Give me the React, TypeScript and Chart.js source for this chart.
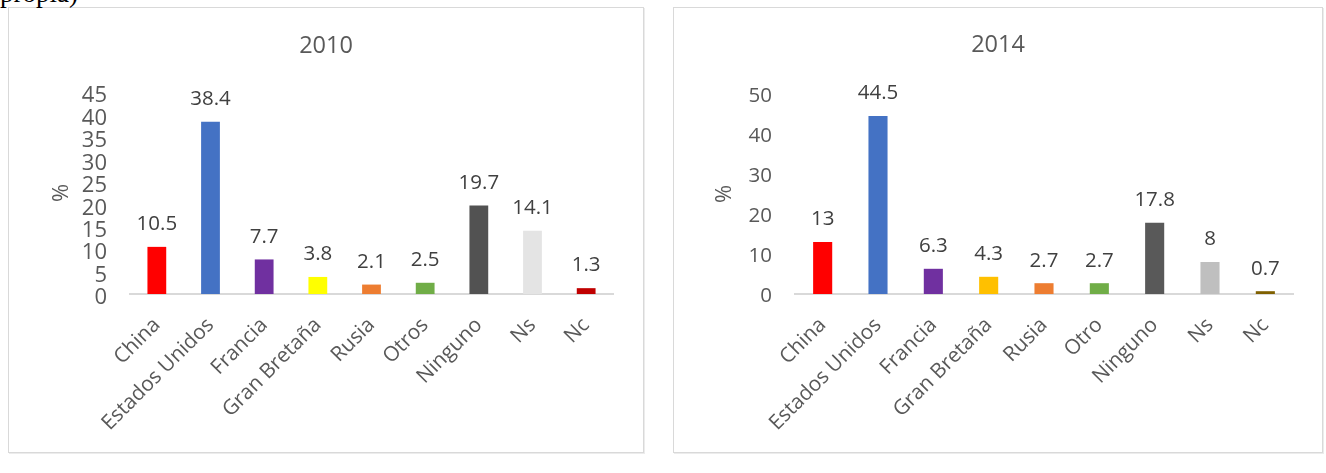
import React, { useEffect, useRef } from "react";
import { Chart, registerables } from "chart.js";

Chart.register(...registerables);

// ---- Data ----
const categories2010 = ["China", "Estados Unidos", "Francia", "Gran Bretaña", "Rusia", "Otros", "Ninguno", "Ns", "Nc"];
const values2010 = [10.5, 38.4, 7.7, 3.8, 2.1, 2.5, 19.7, 14.1, 1.3];
const colors2010 = ["#FF0000", "#4472C4", "#7030A0", "#FFFF00", "#ED7D31", "#70AD47", "#525252", "#E4E4E4", "#C00000"];

const categories2014 = ["China", "Estados Unidos", "Francia", "Gran Bretaña", "Rusia", "Otro", "Ninguno", "Ns", "Nc"];
const values2014 = [13, 44.5, 6.3, 4.3, 2.7, 2.7, 17.8, 8, 0.7];
const colors2014 = ["#FF0000", "#4472C4", "#7030A0", "#FFC000", "#ED7D31", "#70AD47", "#595959", "#BFBFBF", "#7F6000"];

const title2010 = "2010";
const title2014 = "2014";
const yMax2010 = 45;
const yStep2010 = 5;
const yMax2014 = 50;
const yStep2014 = 10;
const yAxisTitle = "%";

const FONT = "'Open Sans', 'Noto Sans', sans-serif";

const valueLabelPlugin = {
  id: "valueLabels",
  afterDatasetsDraw(chart: any) {
    const ctx = chart.ctx;
    const meta = chart.getDatasetMeta(0);
    const data = chart.data.datasets[0].data;
    ctx.save();
    ctx.font = `20.5px ${FONT}`;
    ctx.fillStyle = "#404040";
    ctx.textAlign = "center";
    ctx.textBaseline = "alphabetic";
    meta.data.forEach((el: any, i: number) => {
      ctx.fillText(String(data[i]), el.x, el.y - 24 + 7.3);
    });
    ctx.restore();
  },
};

// Title centred on the whole box, and y tick labels drawn digit-centred
const boxTextPlugin = {
  id: "boxText",
  afterDraw(chart: any, _args: any, opts: any) {
    const ctx = chart.ctx;
    ctx.save();
    ctx.font = `${opts.size}px ${FONT}`;
    ctx.fillStyle = "#595959";
    ctx.textAlign = "center";
    ctx.textBaseline = "middle";
    ctx.fillText(opts.text, chart.width / 2, opts.y);

    const ys = chart.scales.y;
    ctx.font = `${opts.tickSize}px ${FONT}`;
    ctx.textAlign = "right";
    ctx.textBaseline = "alphabetic";
    ys.ticks.forEach((t: any) => {
      const py = ys.getPixelForValue(t.value);
      ctx.fillText(String(t.value), ys.right - 23, py + opts.tickSize * 0.357 + opts.tickShift);
    });
    ctx.restore();
  },
};

interface CfgParams {
  labels: string[];
  values: number[];
  colors: string[];
  title: string;
  titleY: number;
  plotTop: number;
  yMax: number;
  yStep: number;
  rightPad: number;
  yTickSize: number;
  yTickShift: number;
  yTitlePad: number;
  barPct: number;
}

function makeConfig(p: CfgParams): any {
  return {
    type: "bar",
    data: {
      labels: p.labels,
      datasets: [
        {
          data: p.values,
          backgroundColor: p.colors,
          borderWidth: 0,
          barPercentage: p.barPct,
          categoryPercentage: 1,
        },
      ],
    },
    options: {
      responsive: false,
      animation: false,
      devicePixelRatio: 1,
      layout: { padding: { left: 0, right: p.rightPad, top: p.plotTop, bottom: 0 } },
      plugins: {
        legend: { display: false },
        tooltip: { enabled: false },
        title: { display: false },
        boxText: { text: p.title, y: p.titleY, size: 23.5, tickSize: p.yTickSize, tickShift: p.yTickShift },
      },
      scales: {
        x: {
          grid: { display: false, drawTicks: false },
          border: { display: true, color: "#d9d9d9", width: 2 },
          ticks: {
            color: "#595959",
            font: { family: FONT, size: 20.7 },
            minRotation: 45,
            maxRotation: 45,
            autoSkip: false,
            padding: 19,
          },
          afterFit: (s: any) => {
            s.height = 158;
          },
        },
        y: {
          min: 0,
          max: p.yMax,
          grid: { display: false, drawTicks: false },
          border: { display: false },
          ticks: {
            stepSize: p.yStep,
            autoSkip: false,
            display: false,
          },
          title: {
            display: true,
            text: yAxisTitle,
            color: "#595959",
            font: { family: FONT, size: 22 },
            padding: { top: p.yTitlePad, bottom: 0 },
          },
          afterFit: (s: any) => {
            s.width = 121;
          },
        },
      },
    },
    plugins: [valueLabelPlugin, boxTextPlugin],
  };
}

function ChartBox(props: { left: number; width: number; params: CfgParams }) {
  const ref = useRef<HTMLCanvasElement | null>(null);
  useEffect(() => {
    if (!ref.current) return;
    const chart = new Chart(ref.current, makeConfig(props.params));
    return () => chart.destroy();
  }, []);
  const w = props.width;
  const h = 446;
  return (
    <div
      style={{
        position: "absolute",
        left: props.left,
        top: 7,
        width: w,
        height: h,
        border: "1px solid #d9d9d9",
        boxSizing: "border-box",
        background: "#ffffff",
        boxShadow: "1px 1px 0 #ececec",
      }}
    >
      <canvas ref={ref} width={w - 2} height={h - 2} style={{ display: "block", width: w - 2, height: h - 2 }} />
    </div>
  );
}

export default function App() {
  return (
    <div style={{ position: "absolute", left: 0, top: 0, width: 1326, height: 473, overflow: "hidden" }}>
      <ChartBox
        left={8}
        width={636}
        params={{
          labels: categories2010,
          values: values2010,
          colors: colors2010,
          title: title2010,
          titleY: 38.5,
          plotTop: 84,
          yMax: yMax2010,
          yStep: yStep2010,
          rightPad: 30,
          yTickSize: 22,
          yTickShift: 2.5,
          yTitlePad: 40,
          barPct: 0.35,
        }}
      />
      <ChartBox
        left={673}
        width={650}
        params={{
          labels: categories2014,
          values: values2014,
          colors: colors2014,
          title: title2014,
          titleY: 37,
          plotTop: 86,
          yMax: yMax2014,
          yStep: yStep2014,
          rightPad: 29,
          yTickSize: 20.5,
          yTickShift: 1,
          yTitlePad: 38,
          barPct: 0.345,
        }}
      />
      <div
        style={{
          position: "absolute",
          left: 0,
          top: -20,
          zIndex: 5,
          fontFamily: "'Liberation Serif', 'Times New Roman', serif",
          fontSize: 27,
          lineHeight: "27px",
          color: "#000",
          whiteSpace: "nowrap",
        }}
      >
        propia)
      </div>
    </div>
  );
}
